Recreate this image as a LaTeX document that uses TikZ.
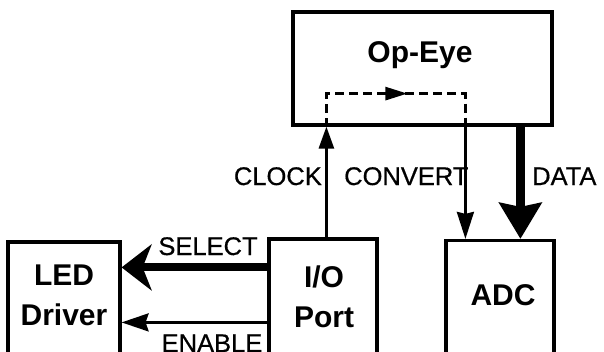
\documentclass[tikz,border=0pt]{standalone}
\usepackage{fontspec}
\setmainfont{Liberation Sans}
\newfontfamily\sigfont[FakeBold=0.6]{Liberation Sans}
\usetikzlibrary{arrows.meta,decorations.markings}
\begin{document}
\begin{tikzpicture}[x=1pt,y=-1pt,
  box/.style={draw, line width=3.2pt, inner sep=0pt},
  boxtext/.style={font=\bfseries\fontsize{30}{40}\selectfont, align=center, anchor=base, inner sep=0pt},
  sig/.style={font=\sigfont\fontsize{25.5}{30}\selectfont, inner sep=0pt},
  thinline/.style={line width=2.7pt},
  thickline/.style={line width=9pt}]
\useasboundingbox (0,0) rectangle (604,351);
% boxes
\node[box, minimum width=259pt, minimum height=113pt] (op) at (422.5,68.5) {};
\node[box, minimum width=112pt, minimum height=118pt] (led) at (64,301) {};
\node[box, minimum width=108pt, minimum height=121pt] (io) at (323,299.5) {};
\node[box, minimum width=108pt, minimum height=120pt] (adc) at (500,300.5) {};
% box texts
\node[boxtext] (opt) at (420,62) {Op-Eye};
\node[boxtext] (ledt) at (64,325) {LED\\Driver};
\node[boxtext] (iot) at (324,327) {I/O\\Port};
\node[boxtext] (adct) at (503,305) {ADC};
% connector points
\coordinate (ck) at ([xshift=35pt]op.south west);
\coordinate (cv) at ([xshift=174pt]op.south west);
\coordinate (dt) at ([xshift=229pt]op.south west);
\coordinate (sl) at ([yshift=-30pt]io.north west);
\coordinate (en) at ([yshift=-85pt]io.north west);
% dashed internal path
\draw[thinline, dash pattern=on 9pt off 5pt,
  postaction={decorate, decoration={markings,
    mark=at position 114pt with {\arrow{Triangle[length=22pt,width=13pt]}}}}]
  (ck) -- ++(0,-33) -| (cv);
% vertical connectors
\draw[thinline, -{Triangle[length=22pt,width=15pt]}] (ck |- io.north) -- (ck);
\draw[thinline, -{Stealth[length=27pt,width=17pt,inset=2pt]}] (cv) -- (cv |- adc.north);
\draw[thickline, -{Stealth[length=36pt,width=42pt,inset=4pt]}] (dt) -- (dt |- adc.north);
% horizontal connectors
\draw[thickline, line width=8pt, -{Stealth[length=30pt,width=46pt,inset=9pt]}] (sl) -- (sl -| led.east);
\draw[thinline, -{Stealth[length=27pt,width=18pt,inset=3pt]}] (en) -- (en -| led.east);
% signal labels
\node[sig, anchor=base east] (clk) at (322,185) {CLOCK};
\node[sig, anchor=base west] (cvt) at (344,185) {CONVERT};
\node[sig, anchor=base west] (dat) at (532,185) {DATA};
\node[sig, anchor=base] (sel) at (208,255) {SELECT};
\node[sig, anchor=base] (ena) at (212,352) {ENABLE};
\end{tikzpicture}
\end{document}
